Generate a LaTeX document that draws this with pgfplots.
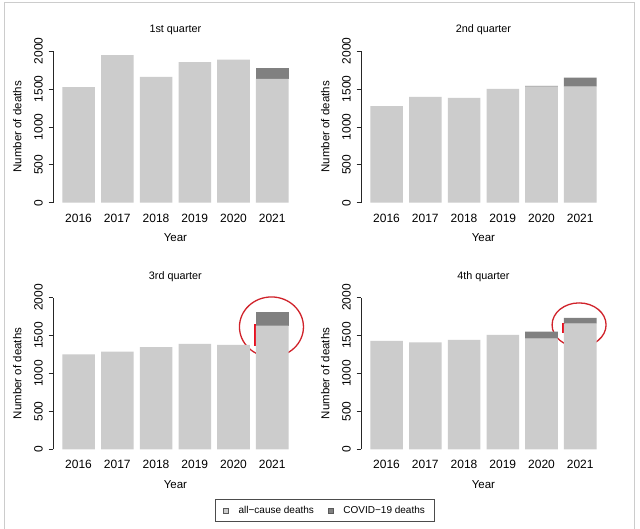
\documentclass[border=0pt]{standalone}
\usepackage{pgfplots}
\pgfplotsset{compat=1.18}
\usepackage{fontspec}
\setmainfont{Liberation Sans}
\definecolor{allc}{HTML}{CCCCCC}
\definecolor{covc}{HTML}{808080}
\definecolor{annot}{HTML}{D0222A}
\definecolor{redbar}{HTML}{E81020}

\pgfplotstableread{
x all cov
0 1522 0
1 1944 0
2 1658 0
3 1852 0
4 1887 0
5 1632 141
}\qone
\pgfplotstableread{
x all cov
0 1272 0
1 1394 0
2 1381 0
3 1500 0
4 1530 10
5 1530 119
}\qtwo
\pgfplotstableread{
x all cov
0 1253 0
1 1288 0
2 1346 0
3 1389 0
4 1376 0
5 1631 176
}\qthree
\pgfplotstableread{
x all cov
0 1429 0
1 1411 0
2 1442 0
3 1508 0
4 1459 92
5 1657 75
}\qfour

\pgfplotsset{
 qstyle/.style={
  scale only axis, width=244.8pt, height=151.7pt,
  xmin=-0.66, xmax=5.66, ymin=0, ymax=2000,
  ybar stacked, bar width=0.84,
  axis lines*=left,
  x axis line style={draw=none},
  y axis line style={-, line width=0.6pt, black!85},
  xtick={0,...,5}, xticklabels={2016,2017,2018,2019,2020,2021},
  xtick style={draw=none},
  ytick={0,500,1000,1500,2000},
  ytick style={line width=0.6pt, black!85},
  tick align=outside, major tick length=4.5pt,
  /pgf/number format/assume math mode=true,
  /pgf/number format/1000 sep={},
  scaled y ticks=false,
  yticklabel shift=5.5pt,
  xticklabel shift=15pt,
  yticklabel style={rotate=90, anchor=south, inner sep=0pt, font=\fontsize{12}{13}\selectfont},
  xticklabel style={anchor=base, inner sep=0pt, font=\fontsize{12}{13}\selectfont},
  every axis y label/.style={at={(axis description cs:-0.1458,0.5)}, rotate=90, anchor=center, font=\fontsize{11.5}{13}\selectfont},
  every axis x label/.style={at={(axis description cs:0.5,-0.2307)}, anchor=center, font=\fontsize{11.5}{13}\selectfont},
  every axis title/.style={at={(axis description cs:0.5,1.1384)}, anchor=center, font=\fontsize{10.8}{12}\selectfont},
  ylabel={Number of deaths}, xlabel={Year},
  clip=false,
 },
 allbar/.style={fill=allc, draw=none},
 covbar/.style={fill=covc, draw=none},
}

\begin{document}
\begin{tikzpicture}
\useasboundingbox (0,0) rectangle (640pt,529pt);
\fill[white] (0,0) rectangle (640pt,529pt);
\draw[black!20, line width=0.9pt] (4.3pt,-2pt) -- (4.3pt,526.3pt) -- (634.3pt,526.3pt) -- (634.3pt,-2pt);

\begin{axis}[qstyle, at={(53pt,326.3pt)}, anchor=south west, title={1st quarter}]
\addplot[allbar] table[x=x,y=all]{\qone};
\addplot[covbar] table[x=x,y=cov]{\qone};
\end{axis}

\begin{axis}[qstyle, at={(361pt,326.3pt)}, anchor=south west, title={2nd quarter}]
\addplot[allbar] table[x=x,y=all]{\qtwo};
\addplot[covbar] table[x=x,y=cov]{\qtwo};
\end{axis}

\begin{axis}[qstyle, at={(53pt,79.7pt)}, anchor=south west, title={3rd quarter},
  legend columns=2,
  legend style={at={(axis description cs:1.1111,-0.4034)}, anchor=center,
    draw=black!70, line width=0.6pt, inner xsep=7.5pt, inner ysep=4.5pt,
    font=\fontsize{10}{12}\selectfont,
    /tikz/every odd column/.append style={column sep=8pt},
    /tikz/every even column/.append style={column sep=12pt}},
  legend image code/.code={\draw[#1, draw=black!65, line width=0.5pt] (0pt,-2.5pt) rectangle (5pt,2.5pt);}]
\addplot[allbar] table[x=x,y=all]{\qthree};
\addplot[covbar] table[x=x,y=cov]{\qthree};
\addlegendentry{all−cause deaths}
\addlegendentry{COVID−19 deaths}
\draw[annot, line width=1.3pt] (axis cs:4.98,1613) ellipse [x radius=32pt, y radius=30pt];
\draw[redbar, line width=2.8pt] (axis cs:4.553,1650) -- (axis cs:4.553,1363);
\end{axis}

\begin{axis}[qstyle, at={(361pt,79.7pt)}, anchor=south west, title={4th quarter}]
\addplot[allbar] table[x=x,y=all]{\qfour};
\addplot[covbar] table[x=x,y=cov]{\qfour};
\draw[annot, line width=1.3pt] (axis cs:4.97,1640) ellipse [x radius=27pt, y radius=22pt];
\draw[redbar, line width=2.8pt] (axis cs:4.563,1670) -- (axis cs:4.563,1530);
\end{axis}
\end{tikzpicture}
\end{document}
